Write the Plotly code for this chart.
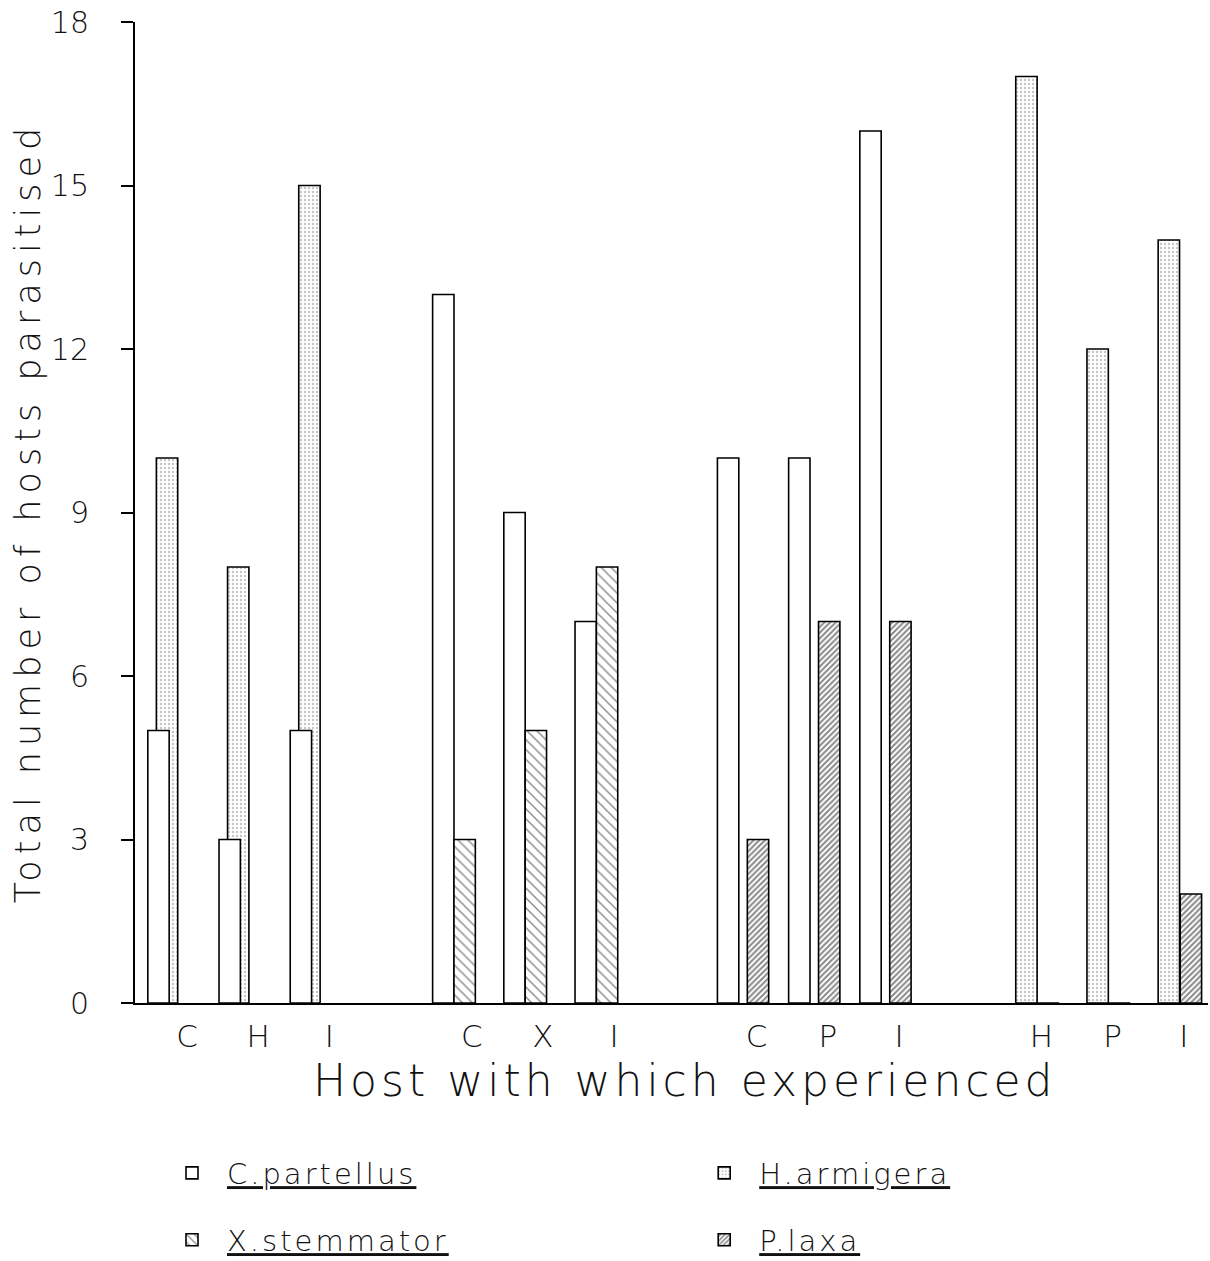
import plotly.graph_objects as go

# ---------------- data ----------------
subgroup_labels = ["C", "H", "I", "C", "X", "I", "C", "P", "I", "H", "P", "I"]
c_partellus = [5, 3, 5, 13, 9, 7, 10, 10, 16, None, None, None]
h_armigera = [10, 8, 15, None, None, None, None, None, None, 17, 12, 14]
x_stemmator = [None, None, None, 3, 5, 8, None, None, None, None, None, None]
p_laxa = [None, None, None, None, None, None, 3, 7, 7, 0, 0, 2]
y_ticks = [0, 3, 6, 9, 12, 15, 18]

# ---------------- layout constants ----------------
GROUP_SIZE = 3
BAR_W = 0.30
PAIR_SPECIES = [("cp", "ha"), ("cp", "xs"), ("cp", "pl"), ("ha", "pl")]
PAIR_OFFSETS = [(-0.40, -0.28), (-0.40, -0.10), (-0.40, 0.02), (-0.21, 0.10)]
slots = [i + i // GROUP_SIZE for i in range(len(subgroup_labels))]

FONT = "DejaVu Sans, Liberation Sans, sans-serif"
INK = "#111111"


def positions(key, values):
    xs, ys = [], []
    for i, v in enumerate(values):
        if v is None:
            continue
        g = i // GROUP_SIZE
        pair = PAIR_SPECIES[g]
        xs.append(slots[i] + PAIR_OFFSETS[g][pair.index(key)])
        ys.append(v)
    return xs, ys


def ls(text, px):
    return f'<span style="letter-spacing:{px}px">{text}</span>'


line = dict(color="black", width=1.6)
fig = go.Figure()

x, y = positions("ha", h_armigera)
fig.add_trace(go.Bar(
    x=x, y=y, width=BAR_W, name=ls("H.armigera", 3), legend="legend2", showlegend=True,
    marker=dict(color="white", line=line,
                pattern=dict(shape=".", fgcolor="#8a8a8a", bgcolor="white", size=4, solidity=0.28)),
))
x, y = positions("cp", c_partellus)
fig.add_trace(go.Bar(
    x=x, y=y, width=BAR_W, name=ls("C.partellus", 3), legend="legend", showlegend=True,
    marker=dict(color="white", line=line),
))
x, y = positions("xs", x_stemmator)
fig.add_trace(go.Bar(
    x=x, y=y, width=BAR_W, name=ls("X.stemmator", 3), legend="legend3", showlegend=True,
    marker=dict(color="white", line=line,
                pattern=dict(shape="\\", fgcolor="#222222", bgcolor="white", size=7, solidity=0.22)),
))
x, y = positions("pl", p_laxa)
fig.add_trace(go.Bar(
    x=x, y=y, width=BAR_W, name=ls("P.laxa", 3), legend="legend4", showlegend=True,
    marker=dict(color="white", line=line,
                pattern=dict(shape="/", fgcolor="#111111", bgcolor="white", size=4, solidity=0.5)),
))

legend_common = dict(
    orientation="h", xanchor="left", yanchor="middle", itemwidth=60,
    yref="container",
    font=dict(family=FONT, size=29, color=INK, weight=200, lineposition="under"),
    bgcolor="rgba(0,0,0,0)",
)
COL1, COL2 = 0.0205, 0.5165
ROW1, ROW2 = 0.0698, 0.0167

fig.update_layout(
    width=1210, height=1261,
    margin=dict(l=135, r=2, t=22, b=258),
    paper_bgcolor="white", plot_bgcolor="white",
    barmode="overlay",
    showlegend=True,
    font=dict(family=FONT, color=INK, weight=200),
    legend=dict(legend_common, x=COL1, y=ROW1),
    legend2=dict(legend_common, x=COL2, y=ROW1),
    legend3=dict(legend_common, x=COL1, y=ROW2),
    legend4=dict(legend_common, x=COL2, y=ROW2),
    xaxis=dict(
        range=[-0.73, 14.34], automargin=False,
        tickmode="array", tickvals=slots, ticktext=subgroup_labels,
        ticks="", showgrid=False, zeroline=False,
        showline=True, linecolor="black", linewidth=2,
        tickfont=dict(family=FONT, size=31, color=INK, weight=200),
        ticklabelstandoff=5,
    ),
    yaxis=dict(
        range=[0, 18], automargin=False,
        tickmode="array", tickvals=y_ticks,
        ticks="outside", ticklen=12, tickwidth=2, tickcolor="black",
        showgrid=False, zeroline=False,
        showline=True, linecolor="black", linewidth=2,
        tickfont=dict(family=FONT, size=30, color=INK, weight=200),
        ticklabelstandoff=26, ticklabeloverflow="allow",
        title=dict(text=ls("Total number of hosts parasitised", 6), standoff=0,
                   font=dict(family=FONT, size=35, color=INK, weight=200)),
    ),
    annotations=[dict(
        text=ls("Host with which experienced", 4),
        xref="paper", yref="paper", x=0.512, y=-0.0795,
        xanchor="center", yanchor="middle", showarrow=False,
        font=dict(family=FONT, size=44, color=INK, weight=200),
    )],
)

# remove the page's default body margin so the figure fills the window exactly
fig.write_html("out.html",
               config={"displayModeBar": False},
               post_script="document.body.style.margin='0';document.body.style.overflow='hidden';")
